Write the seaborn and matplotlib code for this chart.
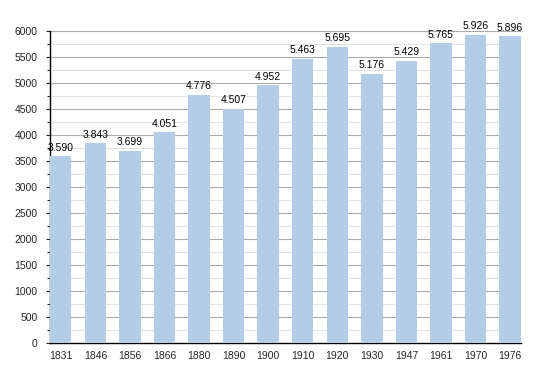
import matplotlib
matplotlib.use("Agg")
import matplotlib.pyplot as plt
import seaborn as sns
import pandas as pd
from matplotlib.ticker import MultipleLocator

years = ['1831', '1846', '1856', '1866', '1880', '1890', '1900',
         '1910', '1920', '1930', '1947', '1961', '1970', '1976']
population = [3590, 3843, 3699, 4051, 4776, 4507, 4952,
              5463, 5695, 5176, 5429, 5765, 5926, 5896]

BAR_COLOR = '#b3cde6'

sns.set_style('white')
plt.rcParams['font.family'] = ['Liberation Sans', 'DejaVu Sans']

df = pd.DataFrame({'year': years, 'pop': population})

fig = plt.figure(figsize=(5.5, 3.73), dpi=100)
ax = fig.add_axes([0.091, 0.080, 0.856, 0.837])

sns.barplot(data=df, x='year', y='pop', color=BAR_COLOR, width=0.62,
            saturation=1, ax=ax, zorder=3, edgecolor=BAR_COLOR, linewidth=0)

ax.set_xlim(-0.31, 13.31)
ax.set_ylim(0, 6000)
ax.yaxis.set_major_locator(MultipleLocator(500))
ax.yaxis.set_minor_locator(MultipleLocator(250))
ax.grid(which='major', axis='y', color='#aaaaaa', linewidth=0.8, zorder=0)
ax.grid(which='minor', axis='y', color='#e2e2e2', linewidth=0.8, zorder=0)
ax.set_axisbelow(True)

for s in ['top', 'right']:
    ax.spines[s].set_visible(False)
for s in ['left', 'bottom']:
    ax.spines[s].set_color('black')
    ax.spines[s].set_linewidth(1.0)

ax.tick_params(axis='y', which='major', left=True, length=3, width=0.8,
               labelsize=7.5, pad=6)
ax.tick_params(axis='y', which='minor', left=True, length=2, width=0.8)
ax.tick_params(axis='x', bottom=False, labelsize=7.5, pad=2)
ax.set_xlabel('')
ax.set_ylabel('')

for i, v in enumerate(population):
    label = f'{v:,}'.replace(',', '.')
    ax.text(i, v + 70, label, ha='center', va='bottom', fontsize=7.5,
            color='black')

fig.savefig('out.png', dpi=100)
